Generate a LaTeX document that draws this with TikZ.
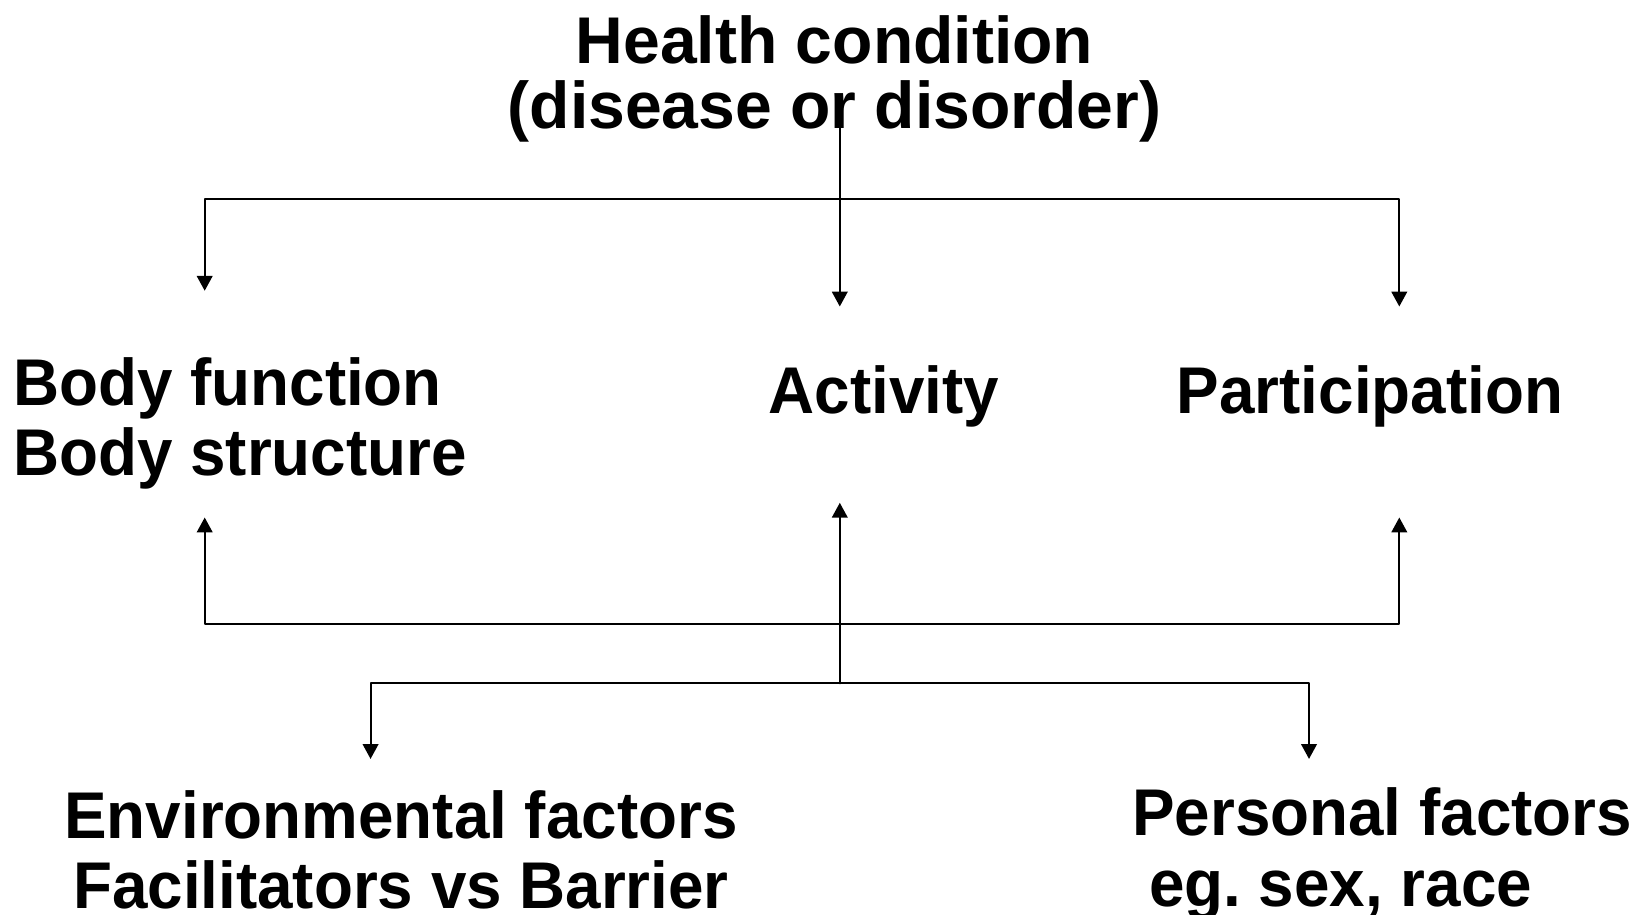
\documentclass[tikz,border=0pt]{standalone}
\usepackage{fontspec}
\setmainfont{Liberation Sans}[FakeStretch=0.965]
\newfontfamily\hcfont{Liberation Sans}
\usetikzlibrary{arrows.meta}
\definecolor{ink}{rgb}{0,0,0}

\begin{document}
\frenchspacing
\begin{tikzpicture}[line cap=round,line join=round,>={Triangle[length=4pt,width=4.2pt]},x=0.01cm,y=-0.01cm,
  lbl/.style={inner sep=0pt,color=ink,font={\fontsize{17.9pt}{19pt}\selectfont\bfseries}},
  link/.style={color=ink,line width=0.55pt}]
\useasboundingbox (0,0) rectangle (1568,871);
% text blocks
\node [lbl,anchor=north,align=center,font={\hcfont\fontsize{17.9pt}{17.6pt}\selectfont\bfseries}] (health) at (795,14) {Health condition\\(disease or disorder)};
\node [lbl,anchor=north west,align=left] (body) at (12,340) {Body function\\Body structure};
\node [lbl,anchor=north] (activity) at (842,348) {Activity};
\node [lbl,anchor=north] (particip) at (1305,348) {Participation};
\node [lbl,anchor=north,align=center] (envfac) at (382,752) {Environmental factors\\Facilitators vs Barrier};
\node [lbl,anchor=north west,align=left] (persfac) at (1078,750) {Personal factors\\\hspace*{0.16cm}eg. sex, race};
% junctions and arrow ends
\coordinate (hcstem) at (800,100);
\coordinate (jTop) at (800,190);
\coordinate (tipBody) at (195,277);
\coordinate (tipAct) at (800,292);
\coordinate (tipPart) at (1333,292);
\coordinate (jBot) at (800,594);
\coordinate (upBody) at (195,493);
\coordinate (upAct) at (800,479);
\coordinate (upPart) at (1333,493);
\coordinate (jLow) at (800,651);
\coordinate (tipEnv) at (353,723);
\coordinate (tipPers) at (1247,723);
% health condition branches
\draw [link,->] (hcstem)-- (tipAct);
\draw [link,->] (jTop) -| (tipBody);
\draw [link,->] (jTop) -| (tipPart);
% contextual factors branches
\draw [link,->] (jLow)-- (upAct);
\draw [link,->] (jBot) -| (upBody);
\draw [link,->] (jBot) -| (upPart);
\draw [link,->] (jLow) -| (tipEnv);
\draw [link,->] (jLow) -| (tipPers);
\end{tikzpicture}
\end{document}
